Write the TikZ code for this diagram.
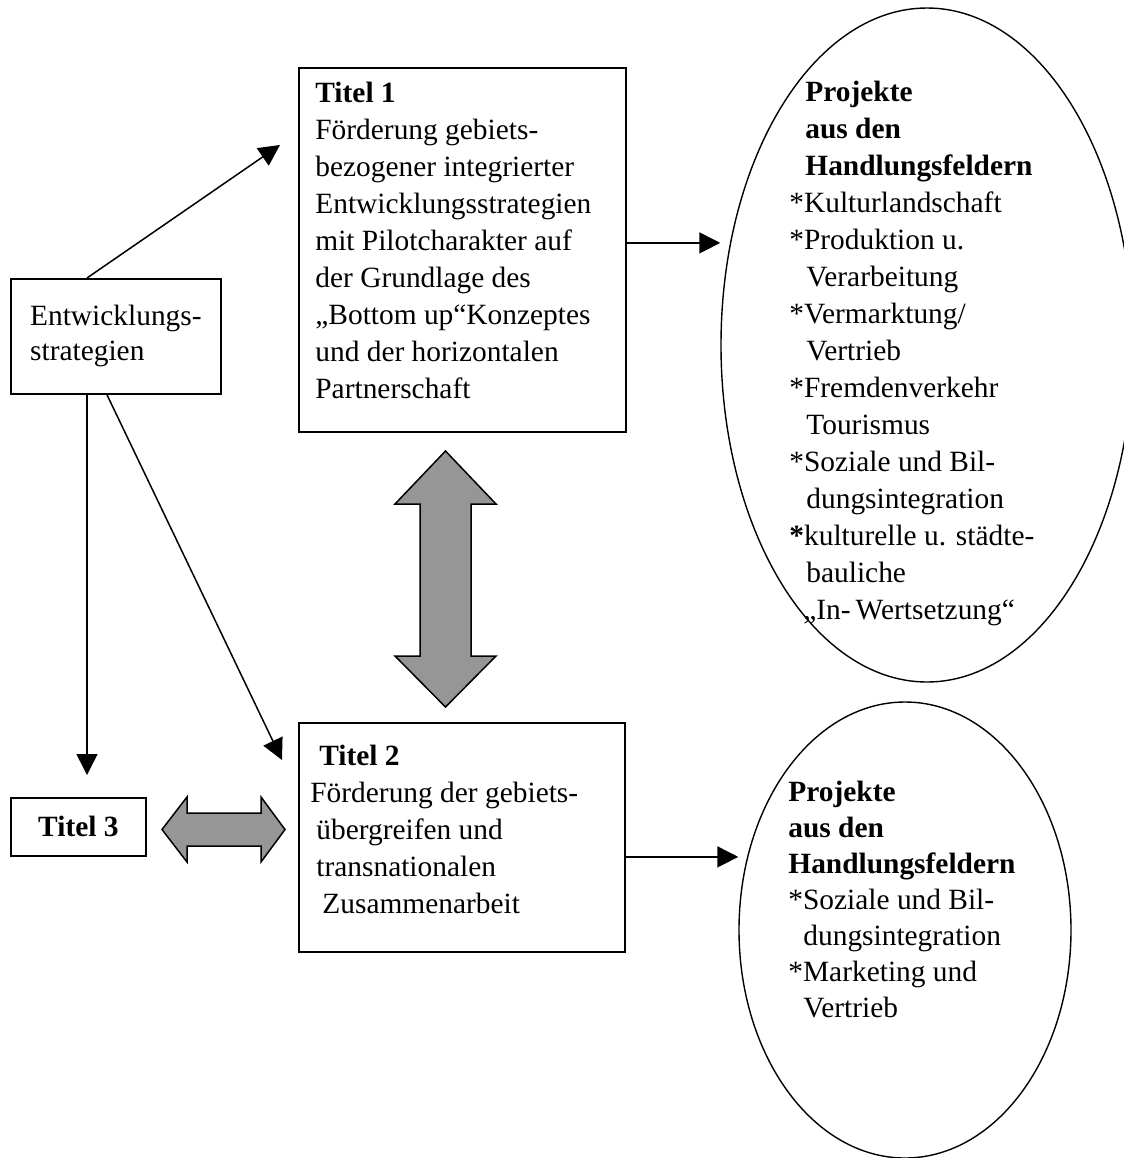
\documentclass[tikz,border=0pt]{standalone}
\usepackage{fontspec}
\setmainfont{Liberation Serif}
\usetikzlibrary{arrows.meta,shapes.geometric}
\definecolor{fatgray}{RGB}{150,150,150}
\tikzset{
    box/.style={draw, line width=0.9pt, anchor=north west, inner sep=0pt},
    bubble/.style={ellipse, draw, line width=0.7pt, inner sep=0pt},
    txt/.style={anchor=north west, inner sep=0pt, align=left, font=\fontsize{14.7pt}{18.5pt}\selectfont},
    arr/.style={line width=0.75pt, -{Triangle[length=10.5pt,width=10.5pt]}},
    fat/.style={draw, line width=0.75pt, fill=fatgray, line join=miter}
}

\begin{document}
\begin{tikzpicture}[x=0.5pt,y=-0.5pt]
    \useasboundingbox (0,0) rectangle (1124,1158);
    % boxes and bubbles
    \node[box, minimum width=105pt, minimum height=57.5pt, align=left, font=\fontsize{14.7pt}{17.5pt}\selectfont] (es) at (10,278) {Entwicklungs-\\strategien};
    \node[box, minimum width=163.5pt, minimum height=182pt] (t1) at (298,67) {};
    \node[box, minimum width=163pt, minimum height=114.5pt] (t2) at (298,722) {};
    \node[box, minimum width=67.5pt, minimum height=29pt, font=\fontsize{14.7pt}{18.5pt}\selectfont\bfseries] (t3) at (10,797) {Titel 3};
    \node[bubble, minimum width=206pt, minimum height=337pt] (e1) at (927,345) {};
    \node[bubble, minimum width=166pt, minimum height=228pt] (e2) at (905,930) {};
    % texts
    \node[txt] (t1text) at ([shift={(17,9)}]t1.north west) {\strut\textbf{Titel 1}\\
        Förderung gebiets-\\
        bezogener integrierter\\
        Entwicklungsstrategien\\
        mit Pilotcharakter auf\\
        der Grundlage des\\
        „Bottom up“Konzeptes\\
        und der horizontalen\\
        Partnerschaft};
    \node[txt] (t2text) at ([shift={(12,17)}]t2.north west) {\strut\hspace*{4.5pt}\textbf{Titel 2}\\
        Förderung der gebiets-\\
        \hspace*{3pt}übergreifen und\\
        \hspace*{3pt}transnationalen\\
        \hspace*{6pt}Zusammenarbeit};
    \node[txt] (e1text) at ([shift={(-138,68)}]e1.north) {\strut\hspace*{8pt}\textbf{Projekte}\\
        \hspace*{8pt}\textbf{aus den}\\
        \hspace*{8pt}\textbf{Handlungsfeldern}\\
        *Kulturlandschaft\\
        *Produktion u.\\
        \hspace*{8.5pt}Verarbeitung\\
        *Vermarktung/\\
        \hspace*{8.5pt}Vertrieb\\
        *Fremdenverkehr\\
        \hspace*{8.5pt}Tourismus\\
        *Soziale und Bil-\\
        \hspace*{8.5pt}dungsintegration\\
        \textbf{*}kulturelle u. städte-\\
        \hspace*{8.5pt}bauliche\\
        \hspace*{7pt}„In-\,Wertsetzung“};
    \node[txt, font=\fontsize{14.7pt}{18pt}\selectfont] (e2text) at ([shift={(-117,75)}]e2.north) {\strut\textbf{Projekte}\\
        \textbf{aus den}\\
        \textbf{Handlungsfeldern}\\
        *Soziale und Bil-\\
        \hspace*{7.5pt}dungsintegration\\
        *Marketing und\\
        \hspace*{7.5pt}Vertrieb};
    % connectors
    \draw[arr] ([shift={(77,0)}]es.north west) -- ([shift={(-18,78)}]t1.north west);
    \draw[arr] ([shift={(77,0)}]es.south west) -- ([shift={(77,-22)}]t3.north west);
    \draw[arr] ([shift={(97,0)}]es.south west) -- ([shift={(-16,38)}]t2.north west);
    \coordinate (t1out) at ([shift={(0,-7)}]t1.east);
    \coordinate (t2out) at ([shift={(0,19.5)}]t2.east);
    \draw[arr] (t1out) -- (t1out -| e1.west);
    \draw[arr] (t2out) -- (t2out -| e2.west);
    % grey double arrows
    \draw[fat] (445.5,451) -- (496,504) -- (471,504) -- (471,656) -- (496,656) -- (445.5,707)
        -- (395,656) -- (420,656) -- (420,504) -- (395,504) -- cycle;
    \draw[fat] (162,829.5) -- (187,797) -- (187,813) -- (261,813) -- (261,797) -- (285,829.5)
        -- (261,862) -- (261,846) -- (187,846) -- (187,862) -- cycle;
\end{tikzpicture}
\end{document}
